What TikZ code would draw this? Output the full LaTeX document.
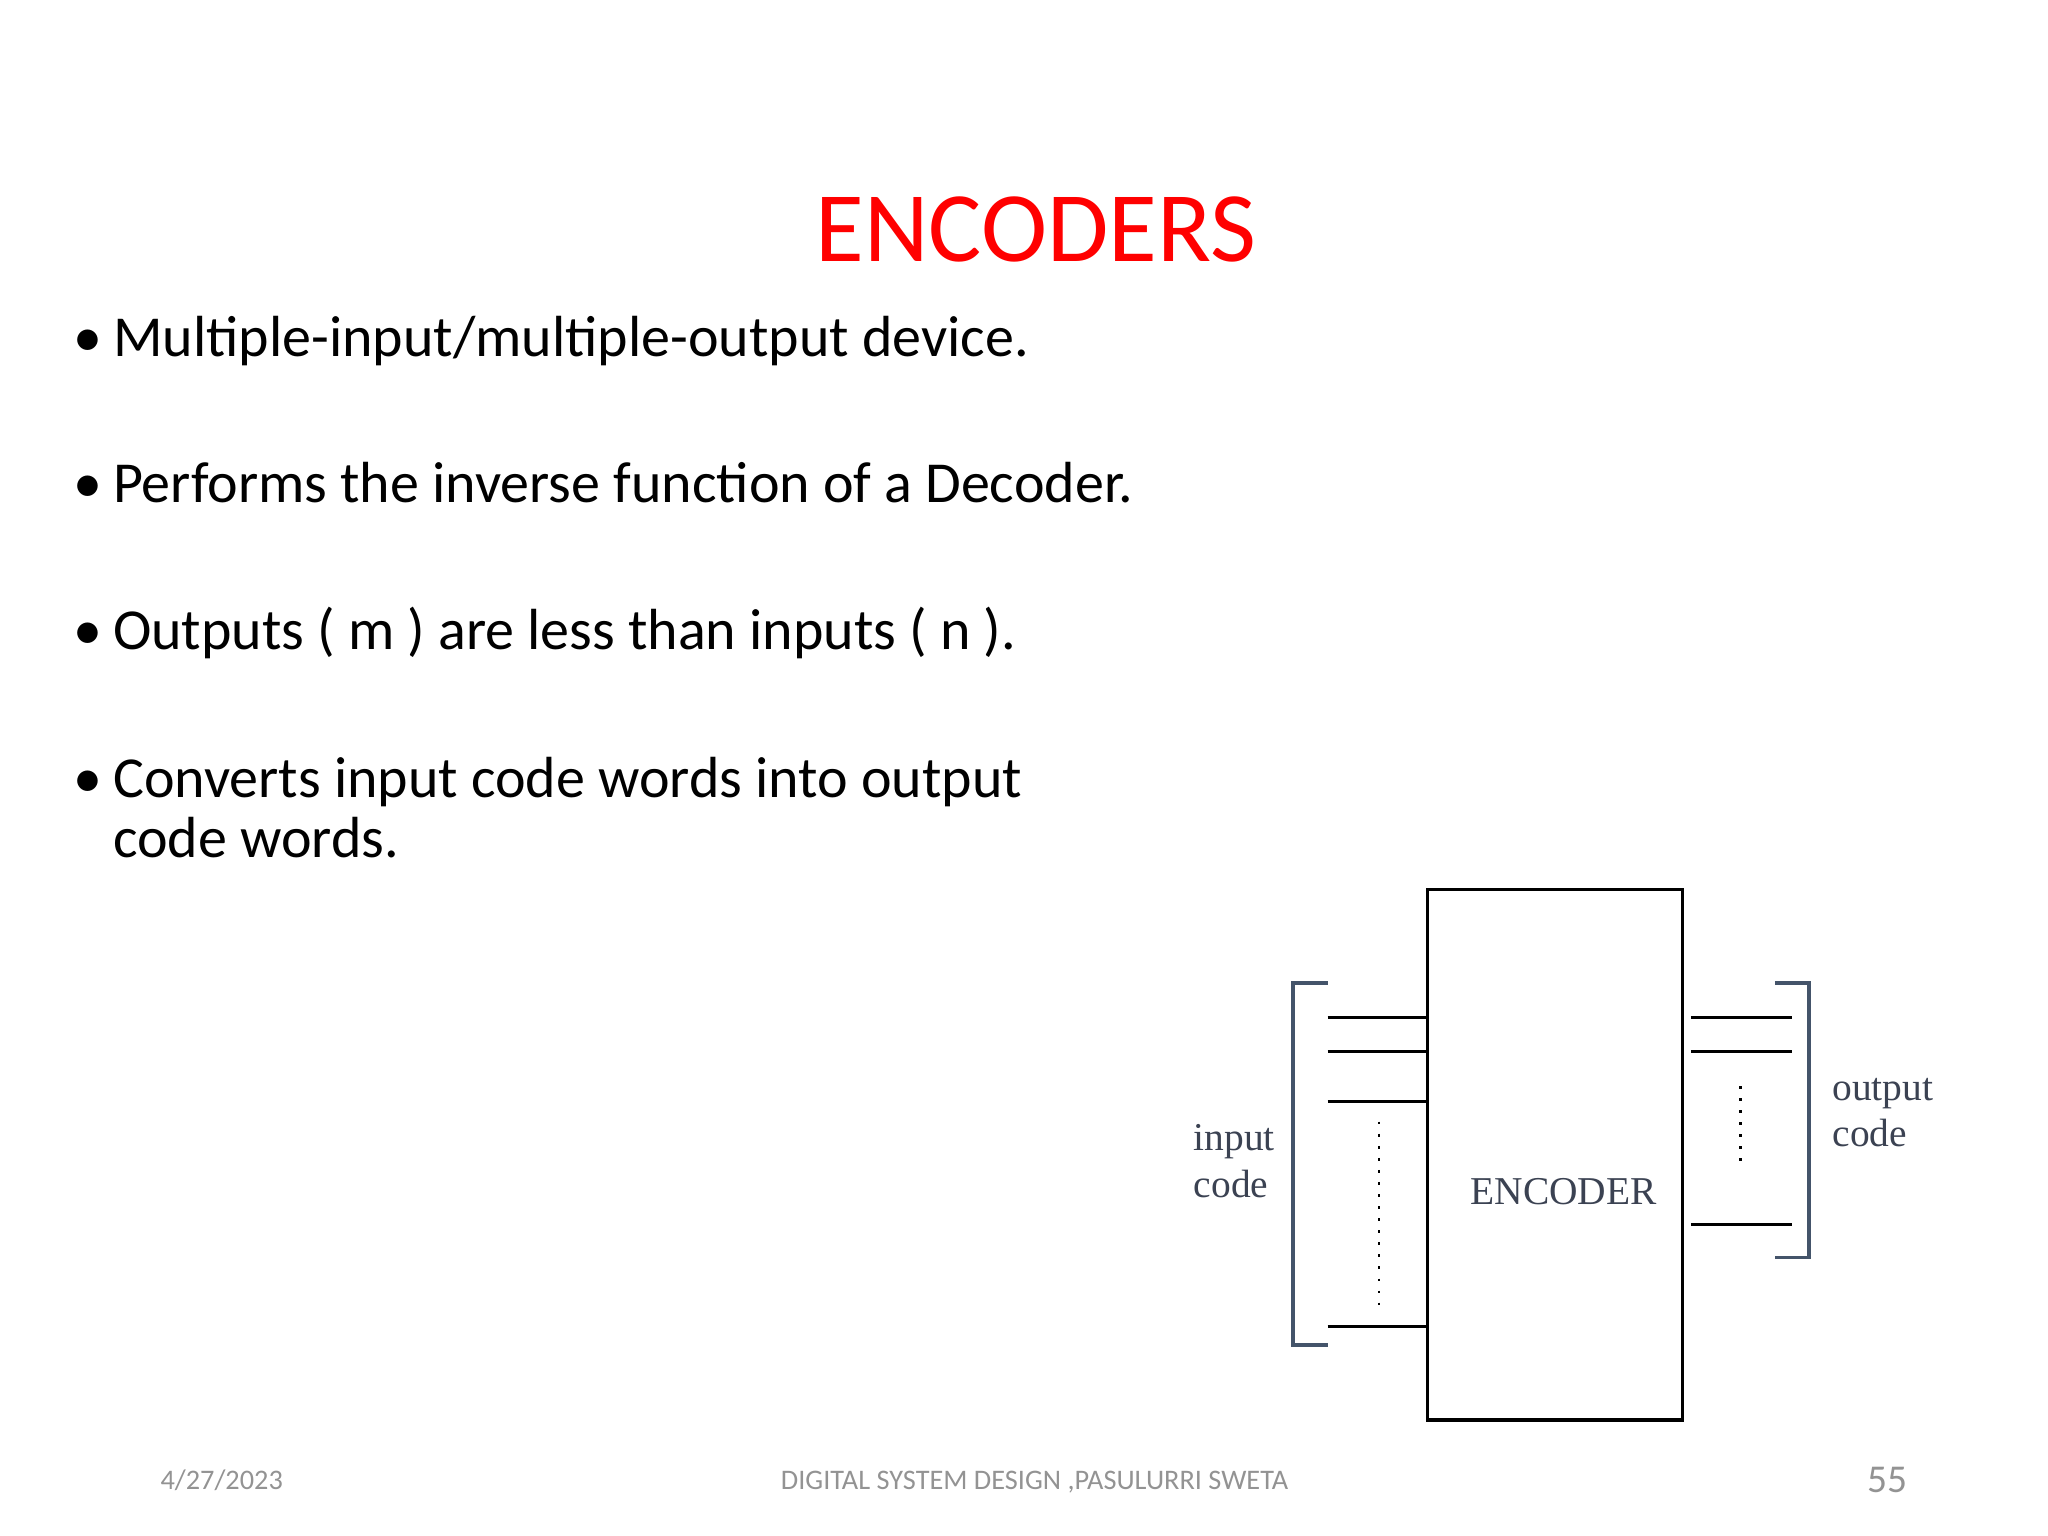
\documentclass[tikz,border=0pt]{standalone}
\usepackage{fontspec}
\setmainfont{Carlito}
\newfontfamily\serifdia{Liberation Serif}
\definecolor{slate}{HTML}{44546A}
\definecolor{lbl}{HTML}{3B4252}
\begin{document}
\begin{tikzpicture}[x=0.01cm,y=-0.01cm,
  bul/.style={anchor=base west,font=\fontsize{12.5}{15}\selectfont,inner sep=0},
  foot/.style={anchor=base,font=\fontsize{6.1}{8}\selectfont,text=gray!85,inner sep=0},
  wire/.style={line width=0.7pt},
  brk/.style={slate,line width=0.8pt},
  dia/.style={font=\serifdia\fontsize{8.5}{10}\selectfont,text=lbl,align=left,inner sep=0}]
\useasboundingbox (0,0) rectangle (1552,1164);
\node[anchor=base,text=red,font=\fontsize{21.5}{26}\selectfont,inner sep=0] (title) at (785,198) {ENCODERS};
\foreach \y/\t [count=\i] in {270/{Multiple-input{/}multiple-output device.},381/Performs the inverse function of a Decoder.,492/{Outputs ( m ) are less than inputs ( n ).},604/Converts input code words into output}{
  \node[bul] (b\i) at (55,\y) {•};
  \node[bul] (t\i) at (85,\y) {\t};}
\node[bul] (t5) at (85,650) {code words.};
\node[draw,wire,minimum width=1.93cm,minimum height=4.02cm,inner sep=0] (enc) at (1178.5,875) {};
\node[dia] (enclbl) at (1185,903) {ENCODER};
\node[dia,anchor=west] (inl) at (904,880) {input\\code};
\node[dia,anchor=west] (outl) at (1388,843) {output\\code};
\foreach \y in {771,797,835,1005}{\coordinate (i\y) at (1006,\y); \draw[wire] (i\y) -- (enc.west |- i\y);}
\foreach \y in {771,797,928}{\coordinate (o\y) at (1358,\y); \draw[wire] (enc.east |- o\y) ++(5,0) -- (o\y);}
\draw[brk] (1006,745) -- (980,745) -- (980,1019) -- (1006,1019);
\draw[brk] (1345,745) -- (1371,745) -- (1371,953) -- (1345,953);
\draw[dotted,line width=0.6pt] (1045,850) -- (1045,992);
\draw[dotted,line width=0.6pt] (1319,823) -- (1319,887);
\node[foot] (date) at (168,1129) {4/27/2023};
\node[foot] (ft) at (784,1129) {DIGITAL SYSTEM DESIGN ,PASULURRI SWETA};
\node[foot,font=\fontsize{8.5}{10}\selectfont] (pg) at (1430,1131) {55};
\end{tikzpicture}
\end{document}
